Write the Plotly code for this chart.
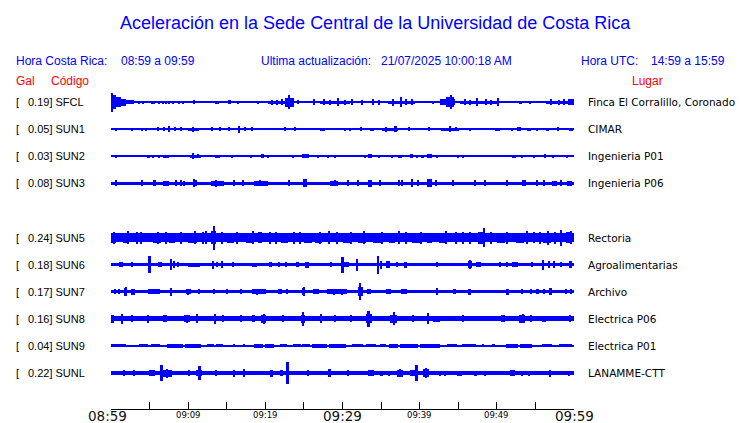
import plotly.graph_objects as go

# ---------------- data ----------------
slot_codes = ["SFCL", "SUN1", "SUN2", "SUN3", None, "SUN5", "SUN6", "SUN7", "SUN8", "SUN9", "SUNL"]
peak_gal = [0.19, 0.05, 0.03, 0.08, None, 0.24, 0.18, 0.17, 0.16, 0.04, 0.22]
places = ["Finca El Corralillo, Coronado", "CIMAR", "Ingenieria P01", "Ingenieria P06", None,
          "Rectoria", "Agroalimentarias", "Archivo", "Electrica P06", "Electrica P01", "LANAMME-CTT"]
# background noise half-amplitude (Gal)
base_gal = [0.015, 0.012, 0.012, 0.035, None, 0.085, 0.035, 0.035, 0.05, 0.012, 0.045]

tick_minutes = [0, 10, 20, 30, 40, 50, 60]
tick_labels = ["08:59", "09:09", "09:19", "09:29", "09:39", "09:49", "09:59"]
big_ticks = ["08:59", "09:29", "09:59"]

# events: (start minute after 08:59, duration in minutes, half amplitude in Gal)
ev_sfcl = [(0, 0.3, 0.19), (0.3, 0.4, 0.14), (0.7, 0.6, 0.1), (1.3, 0.7, 0.07), (2.0, 1.0, 0.045),
           (3.5, 0.2, 0.03), (4.1, 0.2, 0.03), (5.2, 0.2, 0.03), (5.5, 0.2, 0.03), (6.2, 0.2, 0.03),
           (6.7, 0.2, 0.03), (7.1, 0.2, 0.03), (7.5, 0.2, 0.03), (8.0, 0.2, 0.03), (8.8, 0.2, 0.03),
           (9.3, 0.2, 0.03), (10.6, 0.3, 0.04), (13.5, 0.2, 0.03), (13.8, 0.2, 0.03), (15.2, 0.3, 0.04),
           (16.4, 0.2, 0.03), (19.0, 0.2, 0.03), (20.4, 2.2, 0.03), (20.8, 0.15, 0.05), (21.5, 0.15, 0.05),
           (22.1, 0.15, 0.06), (22.5, 0.5, 0.09), (22.9, 0.3, 0.14), (23.2, 0.5, 0.09), (23.6, 1.8, 0.025),
           (24.2, 0.15, 0.04), (26.2, 0.3, 0.06), (27.1, 3.9, 0.03), (27.5, 0.15, 0.06), (28.3, 0.15, 0.05),
           (29.4, 0.2, 0.08), (30.2, 0.15, 0.05), (31.0, 4.5, 0.025), (31.2, 0.2, 0.06), (32.5, 0.15, 0.05),
           (33.9, 0.2, 0.06), (34.6, 0.15, 0.05), (35.9, 3.5, 0.03), (36.5, 0.15, 0.07), (37.4, 0.3, 0.1),
           (38.2, 0.15, 0.06), (38.9, 0.15, 0.06), (40.6, 0.9, 0.025), (41.6, 0.2, 0.03), (42.6, 2.0, 0.06),
           (43.4, 1.0, 0.1), (43.9, 0.3, 0.14), (45.2, 4.8, 0.03), (45.8, 0.15, 0.06), (46.5, 0.15, 0.05),
           (47.4, 0.2, 0.08), (48.5, 0.15, 0.06), (49.2, 0.15, 0.05), (50.0, 2.5, 0.025), (50.1, 0.2, 0.08),
           (53.0, 0.2, 0.03), (54.2, 0.2, 0.03), (56.4, 3.6, 0.03), (57.0, 0.15, 0.06), (58.0, 0.15, 0.05),
           (58.7, 0.15, 0.06), (59.2, 0.8, 0.06)]
ev_sun1 = [(0.6, 0.2, 0.03), (2.6, 0.2, 0.03), (3.9, 0.2, 0.03), (4.5, 0.2, 0.03), (5.5, 4.0, 0.022),
           (6.0, 0.15, 0.04), (6.8, 0.15, 0.04), (7.4, 0.2, 0.06), (8.2, 0.15, 0.04), (9.0, 0.15, 0.04),
           (10.0, 1.4, 0.03), (10.5, 0.15, 0.05), (12.6, 6.3, 0.022), (13.0, 0.15, 0.04), (14.1, 0.15, 0.04),
           (15.2, 0.15, 0.04), (16.5, 0.2, 0.07), (17.3, 0.15, 0.04), (18.2, 0.15, 0.04), (22.0, 2.6, 0.022),
           (22.5, 0.15, 0.04), (23.8, 0.15, 0.04), (27.1, 0.6, 0.03), (30.3, 0.2, 0.03), (30.9, 0.2, 0.03),
           (31.9, 1.0, 0.025), (32.3, 0.15, 0.04), (33.5, 0.6, 0.03), (35.1, 2.1, 0.03), (35.6, 0.15, 0.05),
           (36.8, 0.2, 0.06), (37.8, 1.8, 0.025), (38.6, 0.15, 0.04), (40.6, 1.7, 0.025), (41.2, 0.15, 0.04),
           (42.8, 2.3, 0.03), (43.9, 0.2, 0.06), (44.6, 0.15, 0.04), (46.45, 0.2, 0.03), (49.7, 0.7, 0.03),
           (51.9, 0.2, 0.03), (52.6, 0.5, 0.035), (53.9, 0.5, 0.03), (55.1, 0.2, 0.03), (56.5, 0.2, 0.03),
           (57.4, 1.0, 0.025), (57.8, 0.15, 0.04), (59.4, 0.2, 0.03), (59.7, 0.2, 0.03)]
ev_sun2 = [(0.6, 0.2, 0.03), (4.7, 0.2, 0.03), (4.9, 0.2, 0.03), (5.4, 0.2, 0.03), (6.1, 0.2, 0.03),
           (6.7, 0.8, 0.03), (10.3, 1.3, 0.03), (10.5, 0.2, 0.06), (11.2, 0.15, 0.04), (13.5, 0.6, 0.03),
           (15.6, 0.2, 0.03), (18.1, 0.2, 0.03), (19.4, 0.4, 0.035), (20.3, 0.2, 0.03), (23.5, 0.2, 0.03),
           (24.8, 0.8, 0.035), (26.8, 0.2, 0.03), (28.1, 0.2, 0.03), (29.0, 0.2, 0.03), (32.9, 0.2, 0.03),
           (33.3, 0.5, 0.035), (34.6, 0.2, 0.03), (36.4, 0.2, 0.03), (37.2, 0.5, 0.03), (38.7, 0.4, 0.035),
           (39.6, 0.2, 0.03), (40.3, 0.2, 0.03), (40.9, 0.7, 0.035), (42.2, 0.2, 0.03), (44.9, 0.2, 0.03),
           (45.5, 0.2, 0.03), (52.0, 0.5, 0.03), (53.2, 0.2, 0.03), (54.8, 0.2, 0.03), (56.1, 0.3, 0.035),
           (57.2, 0.2, 0.03), (59.0, 0.2, 0.03)]
ev_sun3 = [(0.6, 0.2, 0.06), (3.9, 0.2, 0.06), (5.5, 0.3, 0.06), (6.7, 0.8, 0.05), (8.4, 0.2, 0.06),
           (9.0, 0.2, 0.06), (9.4, 0.2, 0.05), (10.6, 0.3, 0.08), (11.0, 0.2, 0.06), (12.9, 1.7, 0.045),
           (13.5, 0.2, 0.07), (15.9, 0.2, 0.06), (17.0, 0.2, 0.06), (18.5, 1.8, 0.045), (19.2, 0.15, 0.06),
           (23.0, 0.2, 0.06), (24.9, 0.5, 0.08), (28.4, 1.0, 0.045), (28.9, 0.15, 0.06), (30.7, 0.2, 0.06),
           (31.9, 0.2, 0.06), (33.3, 0.5, 0.07), (34.8, 0.2, 0.06), (37.2, 0.2, 0.06), (37.7, 0.2, 0.06),
           (38.9, 0.3, 0.08), (39.7, 0.2, 0.06), (41.0, 0.6, 0.08), (42.0, 0.2, 0.06), (44.2, 0.2, 0.06),
           (47.1, 0.2, 0.06), (48.4, 0.2, 0.06), (51.2, 0.2, 0.06), (53.2, 0.6, 0.06), (55.1, 0.2, 0.06),
           (56.1, 0.2, 0.06), (57.1, 0.7, 0.05), (58.3, 0.2, 0.06), (59.1, 0.6, 0.05)]
ev_sun5 = [(0.0, 0.6, 0.1), (0.3, 0.15, 0.12), (1.5, 0.8, 0.1), (2.2, 0.15, 0.13), (3.3, 0.15, 0.12),
           (3.8, 0.15, 0.12), (5.5, 1.0, 0.1), (6.0, 0.15, 0.12), (7.0, 0.15, 0.12), (7.5, 0.8, 0.1),
           (9.0, 0.15, 0.12), (10.0, 1.2, 0.1), (10.8, 0.15, 0.13), (11.9, 0.15, 0.12), (12.3, 0.2, 0.13),
           (13.0, 0.6, 0.13), (13.25, 0.2, 0.24), (14.3, 0.15, 0.12), (15.0, 1.0, 0.1), (16.2, 0.15, 0.12),
           (17.5, 1.0, 0.1), (18.3, 0.15, 0.13), (19.0, 0.6, 0.11), (20.5, 0.15, 0.12), (21.3, 0.15, 0.12),
           (22.0, 1.0, 0.1), (23.6, 0.2, 0.12), (24.4, 0.15, 0.12), (25.0, 1.0, 0.1), (26.5, 0.8, 0.1),
           (27.0, 0.15, 0.12), (28.2, 0.2, 0.13), (29.2, 0.15, 0.12), (30.0, 1.0, 0.1), (31.0, 0.15, 0.12),
           (32.0, 1.0, 0.1), (32.7, 0.15, 0.13), (34.0, 1.0, 0.1), (35.0, 0.15, 0.12), (36.0, 0.8, 0.1),
           (37.3, 0.2, 0.13), (38.2, 0.15, 0.12), (39.0, 1.0, 0.1), (40.1, 0.15, 0.12), (41.0, 0.6, 0.1),
           (42.5, 1.0, 0.1), (43.4, 0.15, 0.13), (44.6, 0.15, 0.12), (45.5, 0.15, 0.12), (46.5, 0.15, 0.12),
           (47.5, 0.8, 0.12), (48.3, 0.2, 0.19), (49.2, 0.15, 0.12), (50.0, 1.0, 0.1), (51.3, 0.15, 0.12),
           (52.5, 1.0, 0.1), (53.8, 0.15, 0.13), (54.8, 0.2, 0.11), (55.5, 0.15, 0.12), (56.0, 1.0, 0.1),
           (56.6, 0.2, 0.14), (57.5, 0.15, 0.12), (58.3, 0.2, 0.16), (59.0, 0.8, 0.11), (59.6, 0.15, 0.13)]
ev_sun6 = [(1.0, 0.5, 0.05), (2.6, 0.2, 0.045), (4.9, 0.25, 0.17), (6.1, 0.2, 0.05), (6.45, 0.2, 0.05),
           (7.75, 0.2, 0.11), (8.1, 0.2, 0.07), (8.6, 0.2, 0.05), (10.0, 1.5, 0.042), (13.1, 0.2, 0.08),
           (13.7, 0.2, 0.05), (14.3, 0.2, 0.07), (15.7, 0.3, 0.05), (18.3, 0.6, 0.042), (20.6, 0.2, 0.045),
           (21.7, 0.2, 0.045), (22.6, 0.2, 0.045), (24.1, 0.2, 0.045), (25.2, 0.5, 0.06), (28.4, 0.2, 0.05),
           (29.9, 0.25, 0.16), (30.2, 0.6, 0.055), (31.8, 0.25, 0.12), (34.5, 0.25, 0.18), (34.9, 0.2, 0.08),
           (35.7, 0.5, 0.065), (37.0, 0.2, 0.05), (38.0, 0.4, 0.06), (42.2, 0.2, 0.05), (46.2, 0.6, 0.07),
           (46.4, 0.15, 0.09), (47.3, 0.7, 0.05), (50.3, 0.2, 0.05), (51.2, 0.2, 0.05), (52.0, 0.8, 0.05),
           (54.5, 0.2, 0.05), (55.8, 0.3, 0.1), (56.6, 0.3, 0.07), (57.4, 0.2, 0.07), (58.3, 0.2, 0.05),
           (59.4, 0.3, 0.07)]
ev_sun7 = [(0.4, 0.2, 0.05), (1.0, 0.2, 0.05), (1.7, 0.4, 0.08), (1.85, 0.15, 0.09), (2.6, 0.5, 0.06),
           (4.8, 1.5, 0.045), (7.75, 0.2, 0.08), (9.7, 0.7, 0.05), (9.9, 0.15, 0.06), (11.3, 0.2, 0.05),
           (13.3, 0.2, 0.05), (15.0, 0.2, 0.05), (16.8, 0.2, 0.05), (18.3, 1.8, 0.045), (18.9, 0.15, 0.06),
           (21.6, 0.6, 0.05), (22.8, 0.2, 0.05), (24.8, 0.4, 0.07), (24.9, 0.15, 0.09), (26.2, 0.8, 0.045),
           (28.0, 2.6, 0.045), (28.8, 0.15, 0.06), (29.9, 0.15, 0.06), (32.0, 0.6, 0.09), (32.2, 0.2, 0.17),
           (33.2, 0.5, 0.05), (35.7, 0.6, 0.055), (37.6, 0.8, 0.055), (42.2, 0.2, 0.07), (44.3, 0.4, 0.05),
           (46.2, 0.5, 0.06), (51.2, 0.4, 0.06), (53.2, 0.2, 0.05), (54.4, 0.2, 0.05), (55.2, 0.2, 0.05),
           (56.1, 0.2, 0.05), (56.8, 0.4, 0.065), (58.9, 0.2, 0.05), (59.6, 0.2, 0.05)]
ev_sun8 = [(0.0, 0.4, 0.08), (1.3, 0.2, 0.1), (2.6, 0.2, 0.07), (4.7, 0.2, 0.08), (6.8, 0.5, 0.07),
           (9.4, 0.9, 0.07), (9.8, 0.15, 0.08), (11.1, 0.2, 0.09), (13.4, 0.2, 0.1), (14.5, 0.2, 0.07),
           (16.8, 0.2, 0.07), (18.4, 0.2, 0.07), (19.5, 0.6, 0.075), (19.8, 0.15, 0.1), (22.2, 0.2, 0.07),
           (24.6, 0.5, 0.08), (24.8, 0.2, 0.14), (27.1, 0.2, 0.09), (29.0, 0.2, 0.07), (31.0, 0.2, 0.07),
           (33.0, 0.8, 0.09), (33.3, 0.25, 0.16), (36.1, 1.0, 0.085), (36.6, 0.2, 0.13), (39.1, 0.2, 0.07),
           (40.9, 0.3, 0.11), (41.7, 0.9, 0.065), (45.5, 0.2, 0.07), (50.5, 0.5, 0.07), (52.9, 0.7, 0.08),
           (53.3, 0.15, 0.09), (54.4, 0.2, 0.07), (55.9, 0.5, 0.065), (59.4, 0.2, 0.07)]
ev_sun9 = [(0.0, 2.0, 0.03), (3.6, 1.2, 0.03), (5.2, 1.2, 0.03), (7.3, 2.0, 0.032), (9.6, 2.0, 0.032),
           (12.5, 0.8, 0.03), (13.6, 0.9, 0.03), (15.9, 0.2, 0.03), (17.2, 0.2, 0.03), (18.5, 1.2, 0.032),
           (19.9, 1.2, 0.032), (21.9, 0.9, 0.03), (23.6, 1.0, 0.03), (24.8, 1.0, 0.03), (26.0, 2.0, 0.032),
           (28.3, 2.2, 0.032), (31.2, 1.5, 0.03), (33.0, 1.3, 0.03), (34.8, 0.8, 0.03), (36.0, 1.2, 0.04),
           (37.4, 2.4, 0.032), (40.1, 2.5, 0.032), (43.5, 1.3, 0.03), (45.5, 1.8, 0.03), (48.2, 0.2, 0.03),
           (49.5, 0.2, 0.03), (51.2, 1.6, 0.032), (53.0, 1.6, 0.032), (55.8, 1.4, 0.03), (58.0, 1.7, 0.03)]
ev_sunl = [(1.6, 0.2, 0.06), (2.9, 0.2, 0.06), (4.9, 0.8, 0.06), (6.45, 0.25, 0.16), (6.7, 1.2, 0.07),
           (7.2, 0.15, 0.09), (10.1, 0.2, 0.06), (11.0, 0.8, 0.065), (11.4, 0.2, 0.14), (13.5, 0.2, 0.06),
           (15.9, 0.2, 0.07), (17.2, 0.2, 0.08), (20.6, 0.4, 0.07), (21.9, 0.4, 0.06), (22.8, 0.25, 0.22),
           (25.4, 0.2, 0.06), (28.1, 0.4, 0.08), (30.7, 0.2, 0.06), (33.3, 0.8, 0.065), (34.8, 0.4, 0.05),
           (35.9, 0.2, 0.05), (37.0, 0.8, 0.07), (37.4, 0.15, 0.08), (38.7, 0.8, 0.065), (39.5, 0.25, 0.16),
           (40.4, 0.8, 0.08), (40.7, 0.15, 0.1), (42.6, 0.2, 0.05), (43.2, 0.2, 0.05), (44.9, 0.6, 0.05),
           (47.1, 0.3, 0.05), (48.4, 0.2, 0.05), (51.7, 0.7, 0.065), (53.2, 0.2, 0.05), (54.0, 0.3, 0.05),
           (56.8, 0.2, 0.07), (59.2, 0.3, 0.05)]
events = [ev_sfcl, ev_sun1, ev_sun2, ev_sun3, None, ev_sun5, ev_sun6, ev_sun7, ev_sun8, ev_sun9, ev_sunl]

# ---------------- styling / layout ----------------
BLUE = "#0000FF"
RED = "#FF0000"
GAL_TO_Y = 1.845          # vertical scale: y-units (row spacing = 1) per Gal
L, R, T, B = 111, 574, 85, 409  # plot area in pixels
W, H = 740, 423

def px(x):
    return (x - L) / (R - L)

def py(y):
    return (B - y) / (B - T)

fig = go.Figure()
for k, code in enumerate(slot_codes):
    if code is None:
        continue
    yc = -k
    b = base_gal[k]
    xs, ws, bases, hs = [30.0], [60.0], [yc - b * GAL_TO_Y], [2 * b * GAL_TO_Y]
    for (t0, d, a) in events[k]:
        xs.append(t0 + d / 2)
        ws.append(d)
        bases.append(yc - a * GAL_TO_Y)
        hs.append(2 * a * GAL_TO_Y)
    fig.add_trace(go.Bar(x=xs, y=hs, base=bases, width=ws,
                         marker=dict(color=BLUE, line=dict(width=0)),
                         hoverinfo="skip", showlegend=False))

ann = []
def text(x, y, s, color="black", size=12, family="Liberation Sans", xanchor="left", yref="paper"):
    ann.append(dict(x=x, y=y, xref="paper", yref=yref, text=s, showarrow=False,
                    xanchor=xanchor, yanchor="middle", borderpad=0,
                    font=dict(color=color, size=size, family=family)))

text(px(375), py(23), "Aceleración en la Sede Central de la Universidad de Costa Rica", BLUE, 18, xanchor="center")
text(px(15), py(60.5), "Hora Costa Rica:", BLUE, 12)
text(px(120), py(60.5), "08:59 a 09:59", BLUE, 12)
text(px(260), py(60.5), "Ultima actualización:", BLUE, 12)
text(px(380), py(60.5), "21/07/2025 10:00:18 AM", BLUE, 12)
text(px(580), py(60.5), "Hora UTC:", BLUE, 12)
text(px(650), py(60.5), "14:59 a 15:59", BLUE, 12)
text(px(15), py(80.5), "Gal", RED, 12)
text(px(50), py(80.5), "Código", RED, 12)
text(px(631), py(80.5), "Lugar", RED, 12)

for k, code in enumerate(slot_codes):
    if code is None:
        continue
    text(px(15), -k, "[", "black", 11, yref="y")
    text(px(27), -k, f"{peak_gal[k]:.2f}] {code}", "black", 11, yref="y")
    text(px(587), -k, places[k], "black", 10.5, family="DejaVu Sans", yref="y")

for i, (m, lab) in enumerate(zip(tick_minutes, tick_labels)):
    big = lab in big_ticks
    ann.append(dict(x=m, y=py(415.5 if big else 414.5), xref="x", yref="paper", text=lab,
                    showarrow=False, xanchor="center", yanchor="middle", borderpad=0,
                    xshift=-4 if i == 0 else 0,
                    font=dict(color="#111111" if big else "black", size=13.5 if big else 8.5,
                              family="DejaVu Sans ExtraLight, DejaVu Sans" if big else "DejaVu Sans")))

fig.update_layout(
    width=W, height=H, margin=dict(l=L, r=W - R, t=T, b=H - B, pad=0),
    paper_bgcolor="white", plot_bgcolor="white", barmode="overlay", bargap=0,
    annotations=ann,
    xaxis=dict(range=[0, 60], showgrid=False, zeroline=False, showline=True, linecolor="black",
               linewidth=1, ticks="inside", ticklen=7, tickcolor="black", tickwidth=1,
               tickmode="array", tickvals=list(range(0, 61, 5)), showticklabels=False, fixedrange=True),
    yaxis=dict(range=[-(B - 102) / 27.1, (102 - T) / 27.1], visible=False, showgrid=False,
               zeroline=False, fixedrange=True),
)
fig.write_html("out.html", config={"displayModeBar": False},
               post_script="document.body.style.margin='0';document.body.style.overflow='hidden';")
